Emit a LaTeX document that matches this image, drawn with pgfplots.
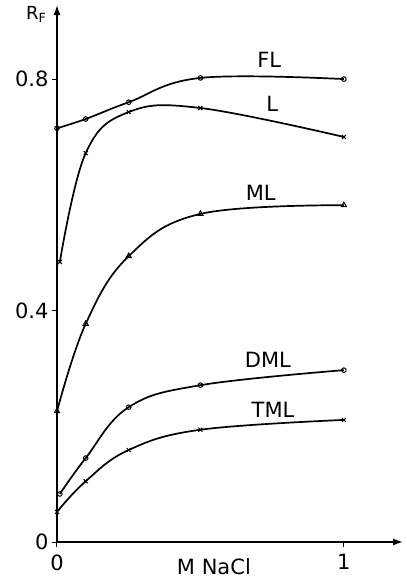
\documentclass[border=0pt]{standalone}
\usepackage{pgfplots}
\pgfplotsset{compat=1.18}
\usepackage{fontspec}
\setmainfont{DejaVu Sans}
\usetikzlibrary{arrows.meta}
\begin{document}
\begin{tikzpicture}[x=1pt,y=1pt]
\useasboundingbox (-57,-37) rectangle (350,542);
\begin{axis}[
  at={(0,0)}, anchor=south west,
  scale only axis, width=346pt, height=537pt,
  xmin=0, xmax=1.206, ymin=0, ymax=0.928,
  axis lines=left,
  axis line style={line width=1.4pt, -{Latex[length=10pt,width=7pt]}},
  xtick={0,1}, xticklabels={0,1},
  ytick={0,0.4,0.8}, yticklabels={0,0.4,0.8},
  tick align=outside, major tick length=5pt,
  tick style={black, line width=1pt},
  ticklabel style={font=\fontsize{21}{23}\selectfont},
  xticklabel style={yshift=-4pt},
  clip=false,
  every axis plot/.append style={black, line width=1.7pt, smooth, tension=0.65,
     mark size=2.3pt, mark options={solid, fill=white, line width=1pt}},
]
% FL
\addplot[mark=o] coordinates {(0,0.715) (0.1,0.731) (0.25,0.760) (0.5,0.802) (1,0.800)};
% L
\addplot[mark=x, mark size=2.8pt] coordinates {(0.01,0.484) (0.1,0.672) (0.25,0.743) (0.5,0.750) (1,0.700)};
% ML
\addplot[mark=triangle, mark size=3pt] coordinates {(0,0.226) (0.1,0.377) (0.25,0.494) (0.5,0.567) (1,0.582)};
% DML
\addplot[mark=o] coordinates {(0.01,0.083) (0.1,0.145) (0.25,0.233) (0.5,0.271) (1,0.297)};
% TML
\addplot[mark=x, mark size=2.8pt] coordinates {(0,0.052) (0.1,0.105) (0.25,0.159) (0.5,0.194) (1,0.211)};

\node[font=\fontsize{21}{23}\selectfont] at (axis cs:0.74,0.833) {FL};
\node[font=\fontsize{21}{23}\selectfont] at (axis cs:0.75,0.757) {L};
\node[font=\fontsize{21}{23}\selectfont] at (axis cs:0.71,0.603) {ML};
\node[font=\fontsize{21}{23}\selectfont] at (axis cs:0.735,0.314) {DML};
\node[font=\fontsize{21}{23}\selectfont] at (axis cs:0.753,0.228) {TML};
\node[font=\fontsize{21}{23}\selectfont] at (axis cs:0.547,-0.042) {M NaCl};
\node[font=\fontsize{18}{20}\selectfont] at (axis cs:-0.072,0.912) {R\textsubscript{F}};
\end{axis}
\end{tikzpicture}
\end{document}
